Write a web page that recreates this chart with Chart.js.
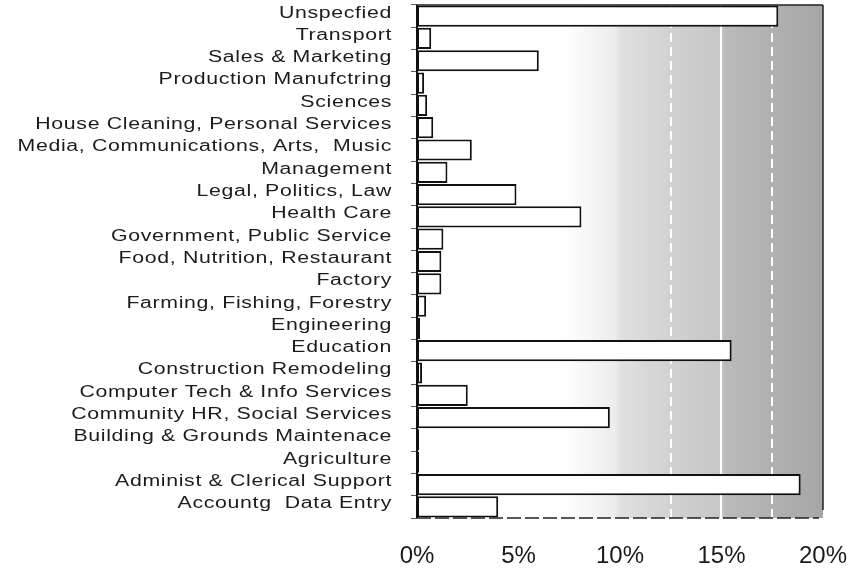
<!DOCTYPE html>
<html>
<head>
<meta charset="utf-8">
<script src="https://cdn.jsdelivr.net/npm/chart.js@4"></script>
<style>
  html, body { margin: 0; padding: 0; background: #fff; }
  #wrap { width: 863px; height: 569px; }
</style>
</head>
<body>
<div id="wrap"><canvas id="myBarChart" width="863" height="569"></canvas></div>
<script>
var categories = ['Unspecfied', 'Transport', 'Sales & Marketing', 'Production Manufctring', 'Sciences',
    'House Cleaning, Personal Services', 'Media, Communications, Arts,  Music', 'Management',
    'Legal, Politics, Law', 'Health Care', 'Government, Public Service', 'Food, Nutrition, Restaurant',
    'Factory', 'Farming, Fishing, Forestry', 'Engineering', 'Education', 'Construction Remodeling',
    'Computer Tech & Info Services', 'Community HR, Social Services', 'Building & Grounds Maintenace',
    'Agriculture', 'Administ & Clerical Support', 'Accountg  Data Entry'];
var percents = [17.8, 0.7, 6.0, 0.35, 0.5, 0.8, 2.7, 1.5, 4.9, 8.1, 1.3, 1.2, 1.2, 0.45, 0.15,
    15.5, 0.25, 2.5, 9.5, 0.1, 0.1, 18.9, 4.0];
var xTicks = [0, 5, 10, 15, 20];

// shaded background + white guide lines behind the bars
var backdrop = {
    id: 'backdrop',
    beforeDatasetsDraw: function(chart) {
        var c = chart.ctx, a = chart.chartArea, x = chart.scales.x;
        var g = c.createLinearGradient(a.left, 0, a.right, 0);
        g.addColorStop(0, '#ffffff');
        g.addColorStop(0.36, '#ffffff');
        g.addColorStop(0.49, '#ececec');
        g.addColorStop(0.5, '#e0e0e0');
        g.addColorStop(0.62, '#d2d2d2');
        g.addColorStop(0.75, '#c6c6c6');
        g.addColorStop(0.76, '#bababa');
        g.addColorStop(1, '#a6a6a6');
        c.save();
        c.fillStyle = g;
        c.fillRect(a.left, a.top, a.right - a.left, a.bottom - a.top);
        c.strokeStyle = '#ffffff';
        c.lineWidth = 2;
        [[12.5, true], [15, false], [17.5, true]].forEach(function(l) {
            var px = Math.round(x.getPixelForValue(l[0]));
            c.setLineDash(l[1] ? [9, 5] : []);
            c.beginPath();
            c.moveTo(px, a.top);
            c.lineTo(px, a.bottom);
            c.stroke();
        });
        c.restore();
    },
    afterDatasetsDraw: function(chart) {
        var c = chart.ctx, a = chart.chartArea;
        c.save();
        c.strokeStyle = '#222';
        c.lineWidth = 1.5;
        c.beginPath();
        c.moveTo(a.left, a.top); c.lineTo(a.right, a.top);
        c.moveTo(a.right, a.top); c.lineTo(a.right, a.bottom - 8);
        c.stroke();
        c.setLineDash([14, 4]);
        c.beginPath();
        c.moveTo(a.left, a.bottom); c.lineTo(a.right - 4, a.bottom);
        c.stroke();
        c.setLineDash([]);
        c.lineWidth = 2;
        c.strokeStyle = '#111';
        c.beginPath();
        c.moveTo(a.left, a.top); c.lineTo(a.left, a.bottom);
        c.stroke();
        c.restore();
    },
    // category names: wide sans like the scan
    afterDraw: function(chart) {
        var c = chart.ctx, y = chart.scales.y;
        c.save();
        c.font = '16px "Liberation Sans"';
        c.fillStyle = '#1c1c1c';
        c.textAlign = 'right';
        c.textBaseline = 'middle';
        c.letterSpacing = '0.5px';
        categories.forEach(function(name, i) {
            c.save();
            c.translate(392, y.getPixelForTick(i) - 3);
            c.scale(1.33, 1);
            c.fillText(name, 0, 0);
            c.restore();
        });
        c.restore();
    }
};

var ctx_bar = document.getElementById('myBarChart').getContext('2d');
var chart_bar = new Chart(ctx_bar, {
    type: 'bar',
    data: {
        labels: categories,
        datasets: [{
            data: percents,
            backgroundColor: '#ffffff',
            borderColor: '#111111',
            borderWidth: 2,
            borderSkipped: false,
            barPercentage: 0.95,
            categoryPercentage: 1.0
        }]
    },
    options: {
        responsive: false,
        animation: false,
        indexAxis: 'y',
        layout: { padding: { left: 0, right: 34, top: 5, bottom: 0 } },
        plugins: { legend: { display: false }, tooltip: { enabled: false } },
        scales: {
            x: {
                min: 0,
                max: 20,
                afterBuildTicks: function(axis) {
                    axis.ticks = xTicks.map(function(v) { return { value: v }; });
                },
                ticks: {
                    color: '#1a1a1a',
                    font: { family: 'Liberation Sans', size: 24 },
                    padding: 16,
                    maxRotation: 0,
                    callback: function(v) { return v + '%'; }
                },
                grid: { display: false },
                border: { display: false },
                afterFit: function(axis) { axis.height = 51; }
            },
            y: {
                ticks: { display: false },
                grid: { display: true, drawOnChartArea: false, tickLength: 6, color: '#555', offset: true },
                border: { display: false },
                afterFit: function(axis) { axis.width = 417; }
            }
        }
    },
    plugins: [backdrop]
});
</script>
</body>
</html>
